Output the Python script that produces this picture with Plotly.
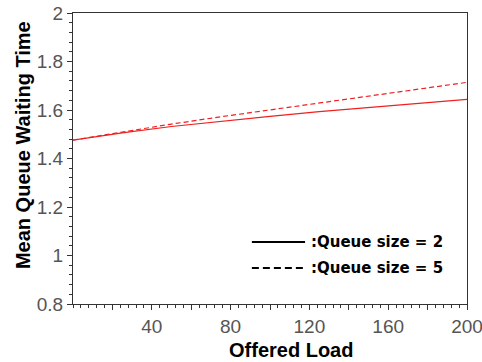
import plotly.graph_objects as go

# Data
offered_load = [0, 25, 50, 75, 100, 125, 150, 175, 200]
wait_q2 = [1.476, 1.506, 1.532, 1.554, 1.574, 1.593, 1.611, 1.628, 1.644]
wait_q5 = [1.476, 1.510, 1.542, 1.572, 1.601, 1.630, 1.658, 1.686, 1.714]

x_tickvals = [20, 40, 60, 80, 100, 120, 140, 160, 180, 200]
x_ticktext = ["", "40", "", "80", "", "120", "", "160", "", "200"]

legend_labels = [":Queue size = 2", ":Queue size = 5"]
x_title = "Offered Load"
y_title = "Mean Queue Waiting Time"

RED = "#f02020"
FONT = "Liberation Sans, Arial, sans-serif"

fig = go.Figure()
fig.add_trace(go.Scatter(x=offered_load, y=wait_q2, mode="lines",
                         line=dict(color=RED, width=1.2, dash="solid"),
                         showlegend=False, hoverinfo="skip"))
fig.add_trace(go.Scatter(x=offered_load, y=wait_q5, mode="lines",
                         line=dict(color=RED, width=1.2, dash="5px,3px"),
                         showlegend=False, hoverinfo="skip"))

# Manual legend (black samples, inside the plot)
legend_rows = [(0.213, "solid"), (0.124, "7px,4px")]
for (yy, dash), label in zip(legend_rows, legend_labels):
    fig.add_shape(type="line", xref="paper", yref="paper",
                  x0=0.454, x1=0.589, y0=yy, y1=yy,
                  line=dict(color="black", width=2, dash=dash))
    fig.add_annotation(xref="paper", yref="paper", x=0.6, y=yy,
                       text=label, showarrow=False, xanchor="left",
                       yanchor="middle",
                       font=dict(family="DejaVu Sans, Verdana, sans-serif", size=15,
                                 color="black", weight="bold"))

# Axis titles as annotations (placed as in the reference)
fig.add_annotation(xref="paper", yref="paper", x=0.553, y=-0.158,
                   text="<b>%s</b>" % x_title, showarrow=False,
                   xanchor="center", yanchor="middle",
                   font=dict(family=FONT, size=20, color="black"))
fig.add_annotation(xref="paper", yref="paper", x=-0.127, y=0.546,
                   text="<b>%s</b>" % y_title, showarrow=False, textangle=-90,
                   xanchor="center", yanchor="middle",
                   font=dict(family=FONT, size=20, color="black"))

fig.update_layout(
    width=482, height=362,
    margin=dict(l=73, r=15, t=13, b=58),
    paper_bgcolor="white", plot_bgcolor="white",
    font=dict(family=FONT, color="#555555", size=19),
    hovermode=False,
)
fig.update_xaxes(
    range=[0, 200], tickmode="array", tickvals=x_tickvals, ticktext=x_ticktext,
    ticks="outside", ticklen=5, tickcolor="#333", tickwidth=1,
    minor=dict(tick0=0, dtick=4, ticks="outside", ticklen=3, tickcolor="#333"),
    showline=True, linecolor="#333", linewidth=1.2, mirror=True,
    showgrid=False, zeroline=False, automargin=False,
    ticklabeloverflow="allow",
    tickfont=dict(size=19, color="#555555"),
)
fig.update_yaxes(
    range=[0.8, 2], dtick=0.2, tick0=0.8,
    ticks="outside", ticklen=5, tickcolor="#333", tickwidth=1,
    minor=dict(dtick=0.04, ticks="outside", ticklen=3, tickcolor="#333"),
    showline=True, linecolor="#333", linewidth=1.2, mirror=True,
    showgrid=False, zeroline=False, automargin=False,
    ticklabeloverflow="allow",
    tickfont=dict(size=19, color="#555555"),
)

fig.write_html("out.html", config={"displayModeBar": False},
               post_script="document.body.style.margin='0';document.body.style.overflow='hidden';")
